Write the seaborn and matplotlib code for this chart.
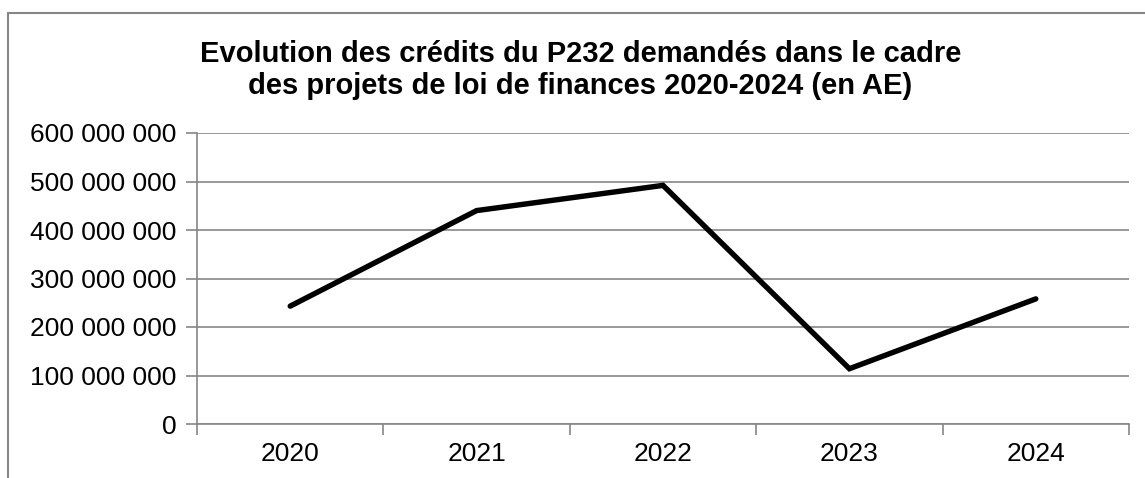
import pandas as pd
import matplotlib.pyplot as plt
import matplotlib.ticker as mticker
from matplotlib.patches import Rectangle
import seaborn as sns

sns.set_theme(style="white")
plt.rcParams["font.family"] = ["Liberation Sans", "DejaVu Sans"]
plt.rcParams["text.color"] = "black"
plt.rcParams["xtick.labelcolor"] = "black"
plt.rcParams["ytick.labelcolor"] = "black"

ANNEES = ["2020", "2021", "2022", "2023", "2024"]
CREDITS_AE = [243_000_000, 440_000_000, 492_000_000, 114_000_000, 258_000_000]

GRIS = "#868686"

df = pd.DataFrame({"Annee": ANNEES, "AE": CREDITS_AE})

fig = plt.figure(figsize=(11.45, 4.78), dpi=100)
ax = fig.add_axes([197 / 1145, 1 - 424 / 478, 932 / 1145, 291 / 478])

sns.lineplot(data=df, x="Annee", y="AE", color="black", linewidth=3.9,
             solid_joinstyle="miter", ax=ax)

ax.set_ylim(0, 600_000_000)
ax.set_xlim(-0.5, len(ANNEES) - 0.5)
ax.yaxis.set_major_locator(mticker.MultipleLocator(100_000_000))
ax.yaxis.set_major_formatter(
    mticker.FuncFormatter(lambda v, p: f"{int(v):,}".replace(",", " "))
)

# graduations entre les catégories, libellés au centre
ax.set_xticks([i - 0.5 for i in range(len(ANNEES) + 1)])
ax.set_xticklabels([])
ax.set_xticks(range(len(ANNEES)), minor=True)
ax.set_xticklabels(ANNEES, minor=True)
ax.tick_params(axis="x", which="minor", length=0, pad=13, labelsize=19)
ax.tick_params(axis="x", which="major", length=8, width=1.2, color=GRIS, direction="out")
ax.tick_params(axis="y", length=8, width=1.2, color=GRIS, direction="out", pad=7, labelsize=19)
ax.tick_params(bottom=True, left=True)

ax.grid(axis="y", color=GRIS, linewidth=1.2)
ax.set_axisbelow(True)
for cote in ["top", "right"]:
    ax.spines[cote].set_visible(False)
for cote in ["left", "bottom"]:
    ax.spines[cote].set_color(GRIS)
    ax.spines[cote].set_linewidth(1.2)

ax.set_xlabel("")
ax.set_ylabel("")

fig.text(0.507, 1 - 94 / 478,
         "Evolution des crédits du P232 demandés dans le cadre\n"
         "des projets de loi de finances 2020-2024 (en AE)",
         ha="center", va="baseline", fontsize=21, fontweight="bold",
         linespacing=1.2, color="black")

# cadre du graphique
fig.patches.append(Rectangle((8 / 1145, -0.1), 1.2, 1 - 13 / 478 + 0.1,
                             transform=fig.transFigure, fill=False,
                             edgecolor=GRIS, linewidth=1.5))

fig.savefig("out.png", dpi=100)
